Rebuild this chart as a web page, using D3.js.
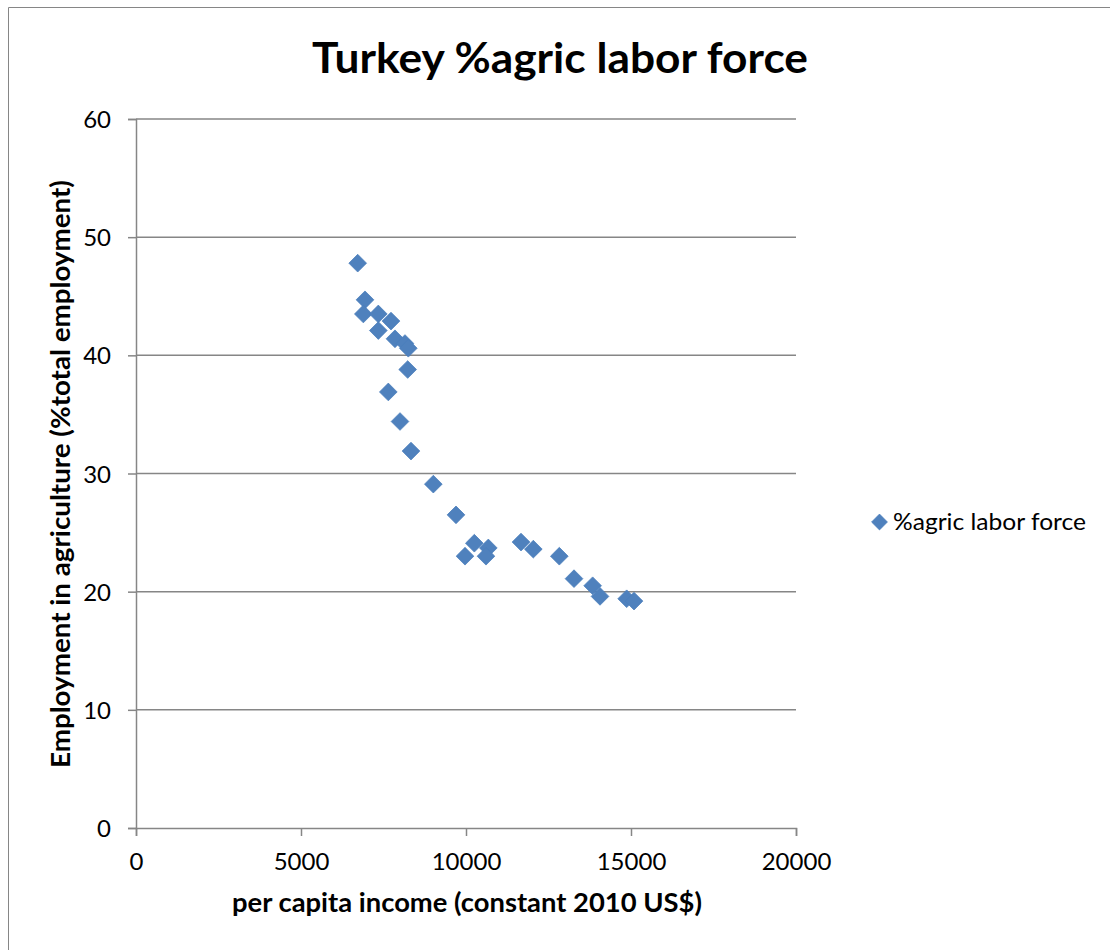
<!DOCTYPE html>
<html>
<head>
<meta charset="utf-8">
<script src="https://cdn.jsdelivr.net/npm/d3@7"></script>
<style>
  html, body { margin: 0; padding: 0; background: #fff; }
  svg { display: block; }
  text { font-family: Lato, "Open Sans", sans-serif; fill: #000; }
</style>
</head>
<body>
<script>
const titleText = "Turkey %agric labor force";
const xLabel = "per capita income (constant 2010 US$)";
const yLabel = "Employment in agriculture (%total employment)";
const seriesName = "%agric labor force";

const income = [6718, 6939, 6889, 7343, 7727, 7343, 7848, 8151, 8252, 8233, 7646, 8000, 8333,
                9010, 9697, 10253, 9970, 10677, 10606, 11667, 12040, 12828, 13273, 13838, 14061, 14869, 15091];
const agricShare = [47.8, 44.7, 43.5, 43.5, 42.9, 42.1, 41.4, 41.0, 40.6, 38.8, 36.9, 34.4, 31.9,
                    29.1, 26.5, 24.1, 23.0, 23.7, 23.0, 24.2, 23.6, 23.0, 21.1, 20.5, 19.6, 19.4, 19.2];
const xTicks = [0, 5000, 10000, 15000, 20000];
const yTicks = [0, 10, 20, 30, 40, 50, 60];

const W = 1110, H = 950;
const grey = "#868686";
const blue = "#4F81BD";

const svg = d3.select("body").append("svg").attr("width", W).attr("height", H);

// outer chart border (extends past the picture on right/bottom)
svg.append("path").attr("d", "M8.5,952 L8.5,7.5 L1112,7.5")
  .attr("fill", "none").attr("stroke", grey).attr("stroke-width", 1);

const x = d3.scaleLinear().domain([0, 20000]).range([136, 796]);
const y = d3.scaleLinear().domain([0, 60]).range([828, 119]);

// gridlines
svg.append("g").selectAll("line").data(yTicks.filter(d => d > 0)).join("line")
  .attr("x1", x(0)).attr("x2", x(20000))
  .attr("y1", d => y(d)).attr("y2", d => y(d))
  .attr("stroke", grey).attr("stroke-width", 1.5);

// y axis
const yAxis = svg.append("g").attr("transform", `translate(${x(0)},0)`)
  .call(d3.axisLeft(y).tickValues(yTicks).tickSize(8).tickPadding(0).tickFormat(d3.format("d")));
yAxis.select(".domain").attr("stroke", grey).attr("stroke-width", 1.5);
yAxis.selectAll(".tick line").attr("stroke", grey).attr("stroke-width", 1.5);
yAxis.selectAll(".tick text").attr("x", -25).attr("dy", "0.36em")
  .style("font-size", "24px").style("font-family", "Lato, sans-serif").attr("fill", "#000");

// x axis
const xAxis = svg.append("g").attr("transform", `translate(0,${y(0)})`)
  .call(d3.axisBottom(x).tickValues(xTicks).tickSize(8).tickPadding(0).tickFormat(d3.format("d")));
xAxis.select(".domain").attr("stroke", grey).attr("stroke-width", 1.5);
xAxis.selectAll(".tick line").attr("stroke", grey).attr("stroke-width", 1.5);
xAxis.selectAll(".tick text").attr("y", 42).attr("dy", 0)
  .style("font-size", "24px").style("font-family", "Lato, sans-serif").attr("fill", "#000");

// points
const pts = income.map((v, i) => [v, agricShare[i]]);
const diamond = d3.symbol().type(d3.symbolDiamond2).size(200);
svg.append("g").selectAll("path").data(pts).join("path")
  .attr("d", diamond)
  .attr("transform", d => `translate(${x(d[0])},${y(d[1])})`)
  .attr("fill", blue).attr("stroke", "#4A7EBB").attr("stroke-width", 0.75);

// title
svg.append("text").attr("x", 312).attr("y", 73)
  .attr("textLength", 496).attr("lengthAdjust", "spacingAndGlyphs")
  .style("font-size", "42px").style("font-weight", "bold").text(titleText);

// x label
svg.append("text").attr("x", 232).attr("y", 912)
  .attr("textLength", 470).attr("lengthAdjust", "spacingAndGlyphs")
  .style("font-size", "26px").style("font-weight", "bold").text(xLabel);

// y label
svg.append("text").attr("transform", "translate(70,768) rotate(-90)")
  .attr("x", 0).attr("y", 0)
  .attr("textLength", 588).attr("lengthAdjust", "spacingAndGlyphs")
  .style("font-size", "26px").style("font-weight", "bold").text(yLabel);

// legend
const lg = svg.append("g");
lg.append("path").attr("d", d3.symbol().type(d3.symbolDiamond2).size(160))
  .attr("transform", "translate(879.5,522)")
  .attr("fill", blue).attr("stroke", "#4A7EBB").attr("stroke-width", 0.75);
lg.append("text").attr("x", 893).attr("y", 530)
  .attr("textLength", 193).attr("lengthAdjust", "spacingAndGlyphs")
  .style("font-size", "23px").text(seriesName);
</script>
</body>
</html>
